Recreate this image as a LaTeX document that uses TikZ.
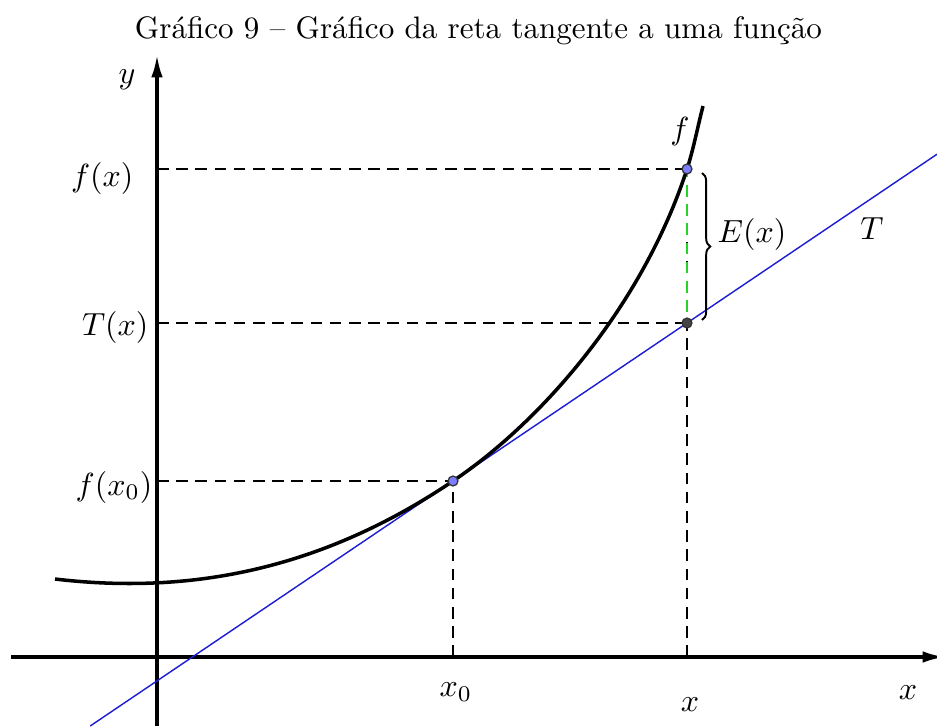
\documentclass[tikz,border=0pt]{standalone}
\usetikzlibrary{arrows.meta,decorations.pathreplacing}
\definecolor{tblue}{RGB}{30,30,210}
\definecolor{ptblue}{RGB}{125,125,255}
\definecolor{egreen}{RGB}{40,210,40}
\definecolor{ptgrey}{RGB}{68,68,68}
\begin{document}
\begin{tikzpicture}[x=0.3125pt,y=-0.3125pt,
  axis/.style={line width=0.95pt,-{Latex[length=7pt,width=3.6pt]}},
  curve/.style={line width=1.1pt},
  guide/.style={line width=0.6pt,dash pattern=on 3.6pt off 2.4pt},
  lbl/.style={inner sep=0pt},
  dot/.style={circle,draw=black!80,line width=0.4pt,fill=ptblue,inner sep=0pt,minimum size=3.1pt}]
\useasboundingbox (0,0) rectangle (937,726);
% title
\node[anchor=base,font=\fontsize{9.7}{12}\selectfont] (title) at (478.5,38) {Gráfico 9 -- Gráfico da reta tangente a uma função};
% key coordinates
\coordinate (xs) at (11,657);
\coordinate (xe) at (945,657);
\coordinate (ys) at (157,726);
\coordinate (ye) at (157,55);
\coordinate (P0) at (453,481);
\coordinate (PF) at (687,169);
\coordinate (PT) at (687,323);
\coordinate (A0) at (453,657);
\coordinate (A1) at (687,657);
\coordinate (Y0) at (157,481);
\coordinate (YF) at (157,169);
\coordinate (YT) at (157,323);
\coordinate (L1) at (90.2,726);
\coordinate (L2) at (937,154.2);
\coordinate (C0) at (55,579);
\coordinate (C9) at (703,106);
% guides
\draw[guide] (YF) -- (PF);
\draw[guide] (YT) -- (PT);
\draw[guide] (Y0) -- (P0);
\draw[guide] (A0) -- (P0);
\draw[guide] (A1) -- (PF);
\draw[guide,draw=egreen,dash phase=1pt] (PF) -- (PT);
% axes
\draw[axis] (xs) -- (xe);
\draw[axis] (ys) -- (ye);
% tangent line
\draw[tblue,line width=0.45pt] (L1) -- (L2);
% function
\draw[curve] (C0) .. controls (188,594.7) and (320,570.8) .. (P0)
  .. controls (545,419) and (644,302) .. (PF)
  .. controls (693,151) and (698,125.5) .. (C9);
% brace
\draw[line width=0.6pt,decorate,decoration={brace,amplitude=2.6pt}] (702,173) -- (702,320);
% points
\node[dot] (d0) at (P0) {};
\node[dot] (dF) at (PF) {};
\node[dot,fill=ptgrey] (dT) at (PT) {};
% labels
\node[lbl] (ylab) at (127,80) {$y$};
\node[lbl] (xlab) at (908,693) {$x$};
\node[lbl] (x0lab) at (456,692) {$x_0$};
\node[lbl] (xval) at (690,705) {$x$};
\node[lbl,anchor=east] (fxlab) at (134,178) {$f(x)$};
\node[lbl,anchor=east] (Txlab) at (149,327) {$T(x)$};
\node[lbl,anchor=east] (fx0lab) at (153,487) {$f(x_0)$};
\node[lbl] (flab) at (680,131) {$f$};
\node[lbl] (Elab) at (752,234) {$E(x)$};
\node[lbl] (Tlab) at (872,229) {$T$};
\end{tikzpicture}
\end{document}
